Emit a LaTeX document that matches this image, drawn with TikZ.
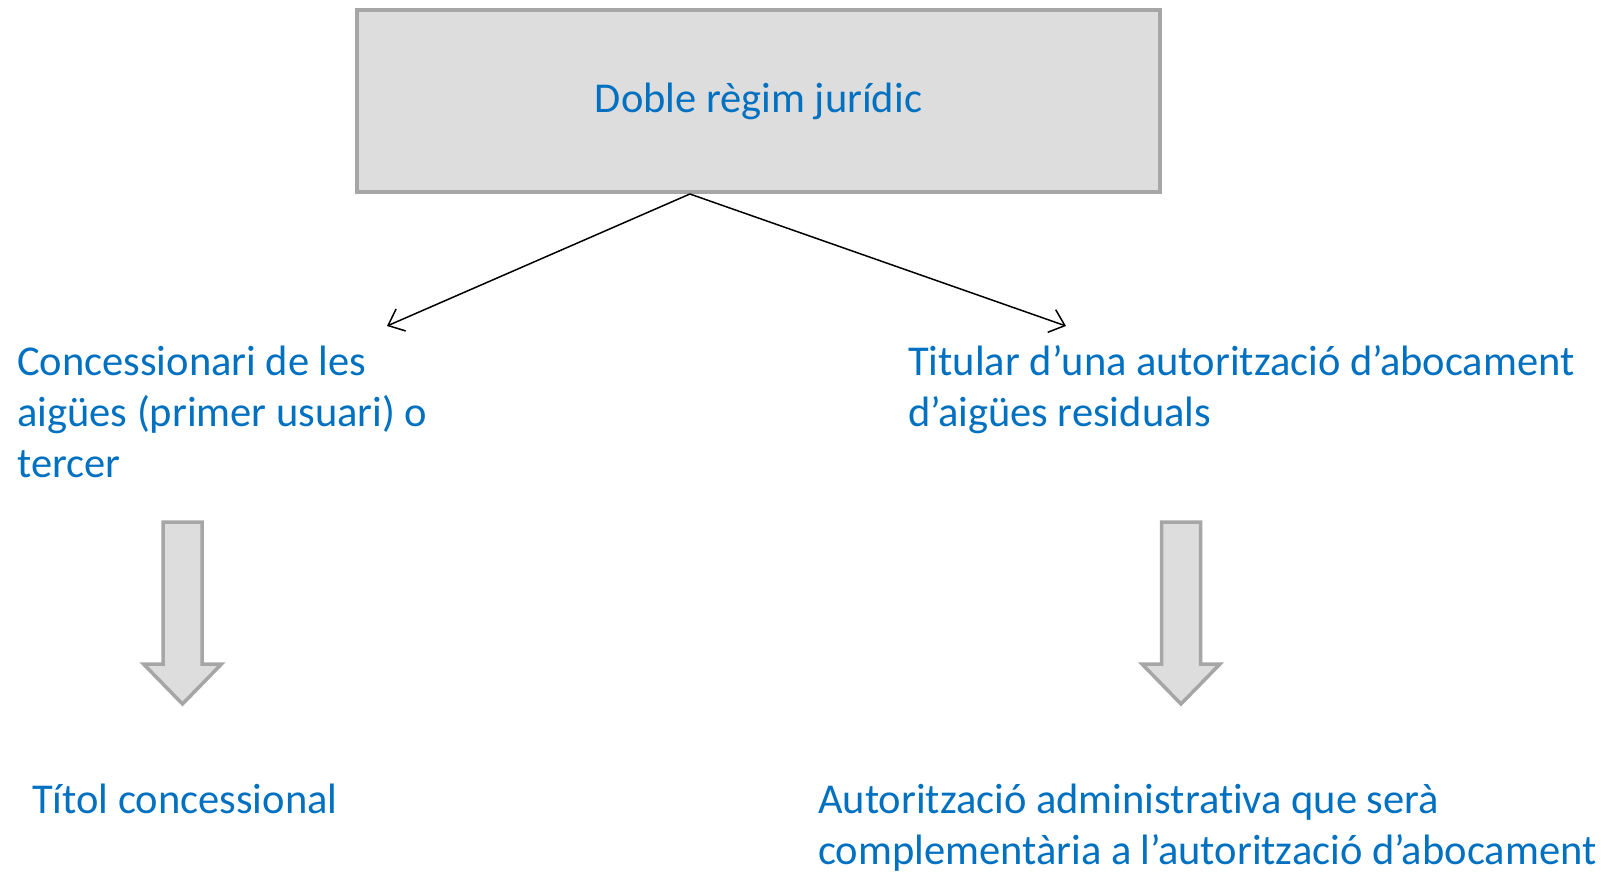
\documentclass[tikz,border=0pt]{standalone}
\usepackage{fontspec}
\setmainfont{Carlito}[Ligatures=NoCommon]
\usetikzlibrary{arrows.meta,calc}
\definecolor{txtblue}{HTML}{0070C0}
\definecolor{boxfill}{HTML}{DDDDDD}
\definecolor{boxline}{HTML}{A6A6A6}
\begin{document}
\begin{tikzpicture}[x=1pt,y=-1pt,
  txt/.style={text=txtblue, font=\fontsize{42.5}{51}\selectfont, inner sep=0pt, align=left},
  conn/.style={-{Straight Barb[length=14pt,width=24pt]}, line width=1.5pt},
  blockarrow/.style={draw=boxline, fill=boxfill, line width=3.5pt, line join=miter}]
\useasboundingbox (0,0) rectangle (1610,872);
\node[draw=boxline, fill=boxfill, line width=4pt, minimum width=803pt, minimum height=182pt,
      inner sep=0pt, anchor=north west, text=txtblue, font=\fontsize{42.5}{51}\selectfont] (top) at (355,8) {\raisebox{-2pt}{Doble règim jurídic}};
\coordinate (src) at ($(top.south west)!0.415!(top.south east)$);
\coordinate (lt) at (387,326);
\coordinate (rt) at (1066,326);
\draw[conn] (src) -- (lt);
\draw[conn] (src) -- (rt);
\node[txt, anchor=base west] (conc) at (17,477) {Concessionari de les\\aigües (primer usuari) o\\tercer};
\node[txt, anchor=base west] (tit) at (908,426) {Titular d’una autorització d’abocament\\d’aigües residuals};
\node[txt, anchor=base west] (tc) at (32,813) {Títol concessional};
\node[txt, anchor=base west] (aa) at (818,864) {Autorització administrativa que serà\\complementària a l’autorització d’abocament};
\draw[blockarrow] (163,522) -- (202,522) -- (202,664) -- (221.5,664) -- (182.5,704) -- (143.5,664) -- (163,664) -- cycle;
\draw[blockarrow] (1161.5,522) -- (1200.5,522) -- (1200.5,664) -- (1220,664) -- (1181,704) -- (1142,664) -- (1161.5,664) -- cycle;
\end{tikzpicture}
\end{document}
